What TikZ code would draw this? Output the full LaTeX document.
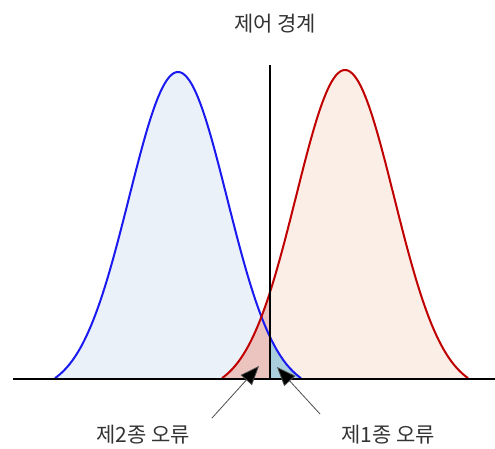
\documentclass[tikz,border=0pt]{standalone}
\usepackage{fontspec}
\newfontfamily\krfont{Noto Sans CJK KR}
\usetikzlibrary{arrows.meta}
\definecolor{bluecurve}{HTML}{1A1AF0}
\definecolor{redcurve}{HTML}{C00000}
\definecolor{bluearea}{HTML}{EAF1F9}
\definecolor{redarea}{HTML}{FAEEE6}
\definecolor{redtail}{HTML}{EBC3BF}
\definecolor{bluetail}{HTML}{A9CFDC}
\tikzset{
  curve/.style={line width=2pt},
  errlabel/.style={font=\krfont\fontsize{21}{24}\selectfont, text=black!80},
  pointer/.style={draw=black!70, line width=0.8pt, -{Triangle[length=19pt,width=15pt,fill=black]}}
}

\begin{document}
\begin{tikzpicture}[x=1pt,y=1pt,
  declare function={
    gblue(\x)=307*(exp(-((\x-178)/49)^2/2)-0.04)/0.96+69;
    gred(\x)=309*(exp(-((\x-345)/49)^2/2)-0.04)/0.96+69;
  }]
\useasboundingbox (0,0) rectangle (495,448);
\fill[bluearea] (55,69) -- plot[domain=55:301,samples=120,smooth] (\x,{gblue(\x)}) -- cycle;
\fill[redarea] (222,69) -- plot[domain=222:468,samples=120,smooth] (\x,{gred(\x)}) -- cycle;
\begin{scope}
\clip (200,60) rectangle (270,400);
\fill[redtail] (222,69) -- plot[domain=222:290,samples=60,smooth] (\x,{gred(\x)}) -- (290,69) -- cycle;
\end{scope}
\begin{scope}
\clip (270,60) rectangle (320,400);
\fill[bluetail] (250,69) -- plot[domain=250:301,samples=60,smooth] (\x,{gblue(\x)}) -- cycle;
\end{scope}
\draw[curve, bluecurve] plot[domain=55:301,samples=120,smooth] (\x,{gblue(\x)});
\draw[curve, redcurve] plot[domain=222:468,samples=120,smooth] (\x,{gred(\x)});
\draw[line width=1.6pt] (270,69) -- (270,383);
\draw[line width=2.6pt] (13,69) -- (495,69);
\node[errlabel] (boundary) at (275,424) {제어 경계};
\node[errlabel] (typeII) at (143,13) {제2종 오류};
\node[errlabel] (typeI) at (388,13) {제1종 오류};
\coordinate (typeIIfrom) at (212,30);
\coordinate (typeIIto) at (259,82);
\coordinate (typeIfrom) at (320,34);
\coordinate (typeIto) at (277,81);
\draw[pointer] (typeIIfrom) -- (typeIIto);
\draw[pointer] (typeIfrom) -- (typeIto);
\end{tikzpicture}
\end{document}
